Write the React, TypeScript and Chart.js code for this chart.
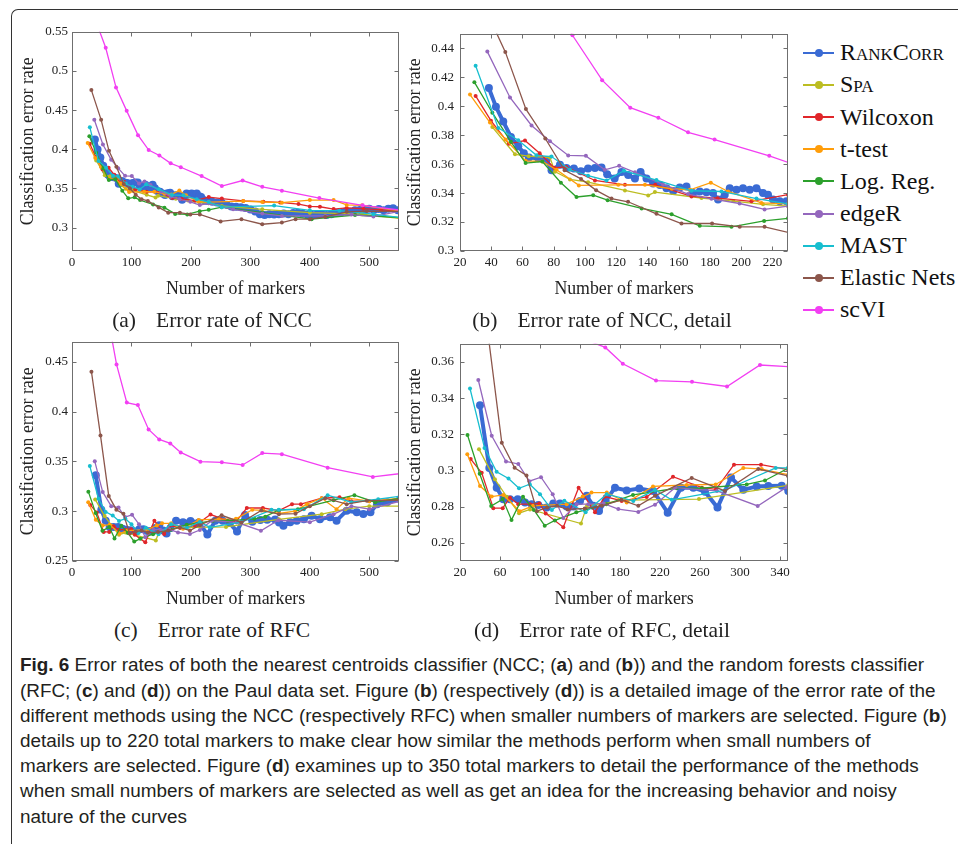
import React, { useEffect, useRef } from "react";
import { Chart, registerables } from "chart.js";
Chart.register(...registerables);

// ---------- Legend / series meta ----------
const METHODS = ["RankCorr", "Spa", "Wilcoxon", "t-test", "Log. Reg.", "edgeR", "MAST", "Elastic Nets", "scVI"];
const COLORS = ["#3a6bd4", "#bcbd22", "#e0262a", "#ff9d0a", "#2ca02c", "#9467bd", "#17becf", "#8c564b", "#f23ff2"];

// ---------- NCC error rates (panels a, b) ----------
const nccRankCorrX = [38.5, 43, 47.7, 52.6, 57.3, 60.9, 64.1, 70.1, 75.4, 78.6, 84, 88.2, 92.9, 97.4, 102, 106.4, 110.6, 114.2, 119, 123.4, 127.7, 132, 135.6, 139.4, 143.7, 148, 152.2, 156.5, 160.7, 165, 169.2, 173.5, 177.8, 182, 185.2, 189.5, 192.7, 197, 201.2, 205.5, 209.8, 214, 217.2, 220.4, 224.7, 229, 236, 244, 252, 260, 268, 276, 284, 292, 300, 308, 316, 324, 332, 340, 348, 356, 364, 372, 380, 388, 396, 404, 412, 420, 428, 436, 444, 452, 460, 468, 476, 484, 492, 500, 508, 516, 524, 532, 540, 548];
const nccRankCorrY = [0.4125, 0.3996, 0.3894, 0.3788, 0.3724, 0.3675, 0.3645, 0.3641, 0.3629, 0.3558, 0.3595, 0.3574, 0.357, 0.3551, 0.357, 0.3574, 0.3576, 0.353, 0.3501, 0.3546, 0.3524, 0.3501, 0.3546, 0.3501, 0.3467, 0.3456, 0.3434, 0.3415, 0.3438, 0.3445, 0.34, 0.3411, 0.3405, 0.34, 0.3355, 0.3388, 0.3434, 0.3423, 0.3434, 0.3423, 0.3434, 0.34, 0.3389, 0.3355, 0.3343, 0.3343, 0.333, 0.332, 0.3315, 0.329, 0.327, 0.3265, 0.326, 0.325, 0.323, 0.3205, 0.317, 0.316, 0.317, 0.3165, 0.317, 0.318, 0.317, 0.3185, 0.319, 0.3175, 0.3165, 0.316, 0.3165, 0.317, 0.316, 0.317, 0.3185, 0.319, 0.3205, 0.32, 0.322, 0.3225, 0.323, 0.324, 0.3225, 0.3235, 0.322, 0.324, 0.3245, 0.322];
const nccSpaX = [40.7, 55.2, 64, 77.6, 80.8, 90.4, 102, 125.6, 140.5, 144.8, 174.6, 195, 214, 230, 252, 320, 400, 488, 552];
const nccSpaY = [0.3856, 0.3668, 0.3655, 0.3645, 0.3548, 0.3494, 0.3475, 0.3418, 0.3384, 0.3407, 0.3366, 0.3345, 0.3322, 0.331, 0.3275, 0.3233, 0.319, 0.317, 0.3115];
const nccWilcoxonX = [30, 39.8, 51.3, 61.6, 71, 80.3, 88, 106.4, 125.6, 145, 168.2, 185, 206.6, 230, 252, 288, 322, 350, 381, 400, 417, 440, 462, 490, 520, 552];
const nccWilcoxonY = [0.4071, 0.39, 0.374, 0.3763, 0.3675, 0.3575, 0.358, 0.3487, 0.3457, 0.3457, 0.3377, 0.3365, 0.3343, 0.3389, 0.337, 0.334, 0.333, 0.332, 0.33, 0.327, 0.3265, 0.3235, 0.325, 0.324, 0.3225, 0.321];
const nccTtestX = [26.4, 39.2, 49.2, 62, 72.7, 81.8, 96.1, 121.3, 138.4, 155.6, 167.2, 180.6, 191.7, 213, 230, 288, 320, 353, 400, 440, 462, 488, 552];
const nccTtestY = [0.408, 0.3887, 0.377, 0.3623, 0.3618, 0.3561, 0.3453, 0.3457, 0.3457, 0.343, 0.3423, 0.3472, 0.3411, 0.3332, 0.3325, 0.3338, 0.3326, 0.3317, 0.335, 0.335, 0.3288, 0.3283, 0.321];
const nccLogRegX = [29.2, 40.7, 52.6, 62, 72.7, 84.6, 94.6, 105.3, 114.5, 136.3, 155.5, 173.5, 193.8, 214.7, 230, 252, 320, 403, 476, 552];
const nccLogRegY = [0.4166, 0.3955, 0.3754, 0.3607, 0.3618, 0.3471, 0.3373, 0.3385, 0.3351, 0.3294, 0.3253, 0.3174, 0.3167, 0.3208, 0.3226, 0.326, 0.319, 0.3106, 0.316, 0.3127];
const nccEdgeRX = [37.5, 52, 65.8, 77.6, 89.3, 100.6, 112.7, 121.9, 132, 150, 166, 181, 199, 215, 230, 271, 320, 353, 426, 470, 507, 552];
const nccEdgeRY = [0.4377, 0.406, 0.3867, 0.3758, 0.366, 0.3657, 0.3561, 0.3588, 0.3543, 0.346, 0.3393, 0.336, 0.3328, 0.3287, 0.331, 0.3233, 0.3178, 0.3148, 0.3148, 0.3165, 0.314, 0.321];
const nccMastX = [30, 44.5, 57.3, 69, 78.6, 90.4, 102, 113.8, 125, 145.8, 168.2, 187.4, 209.8, 230, 252, 340, 400, 450, 507, 552];
const nccMastY = [0.428, 0.385, 0.3765, 0.3661, 0.3652, 0.3561, 0.352, 0.3487, 0.3554, 0.349, 0.3416, 0.3411, 0.3362, 0.3325, 0.326, 0.328, 0.322, 0.3215, 0.317, 0.3127];
const nccElasticX = [32.6, 49, 62.2, 74.6, 87, 97.5, 107.2, 117, 127.6, 145.8, 161.8, 181.4, 199.1, 215, 250, 285, 320, 353, 376, 400, 426, 462, 496, 552];
const nccElasticY = [0.4755, 0.4375, 0.398, 0.3777, 0.3557, 0.3498, 0.3419, 0.3362, 0.334, 0.3257, 0.319, 0.319, 0.3167, 0.3167, 0.3078, 0.3106, 0.3042, 0.3063, 0.3106, 0.3106, 0.3135, 0.32, 0.321, 0.3205];
const nccScviX = [38, 56.7, 74, 92, 111, 129, 147, 166, 183, 218, 252, 287, 320, 353, 416, 489, 552];
const nccScviY = [0.568, 0.5296, 0.479, 0.449, 0.418, 0.399, 0.392, 0.382, 0.377, 0.3657, 0.353, 0.36, 0.352, 0.347, 0.3376, 0.3283, 0.3222];

// ---------- RFC error rates (panels c, d) ----------
const rfcRankCorrX = [40, 49.3, 56.7, 63.3, 70, 77.7, 85, 91.7, 98.3, 106.7, 113.3, 120, 126.7, 133.3, 140, 146.7, 153.3, 159, 165.7, 175, 186.7, 199.3, 213.3, 227.7, 241, 253.3, 265, 277.5, 291, 303.3, 316.7, 328.3, 341.7, 348.3, 355.6, 367, 378, 390, 403, 417, 434, 445, 462, 479, 490, 502, 513, 530, 552];
const rfcRankCorrY = [0.336, 0.3014, 0.2905, 0.2841, 0.2841, 0.2841, 0.2823, 0.2814, 0.2809, 0.2796, 0.2818, 0.2818, 0.2801, 0.2801, 0.2832, 0.286, 0.2805, 0.2776, 0.2832, 0.2905, 0.289, 0.2901, 0.2887, 0.2767, 0.2905, 0.2905, 0.2883, 0.2795, 0.2962, 0.2893, 0.2912, 0.2914, 0.2916, 0.2887, 0.2855, 0.289, 0.2905, 0.292, 0.2955, 0.292, 0.294, 0.2905, 0.3005, 0.299, 0.2972, 0.299, 0.307, 0.309, 0.312];
const rfcSpaX = [39, 54.9, 66.8, 79, 90, 141, 147, 185, 259, 348, 420, 460, 500, 552];
const rfcSpaY = [0.3118, 0.2951, 0.2855, 0.2764, 0.2785, 0.2707, 0.2805, 0.2836, 0.2842, 0.2918, 0.297, 0.302, 0.305, 0.305];
const rfcWilcoxonX = [30.7, 41.7, 53.3, 62.7, 70, 78.3, 90, 99.3, 105.7, 123.3, 138.6, 155, 165, 181.7, 206.7, 233, 262, 276, 294, 321, 348, 370, 385, 420, 450, 470, 500, 552];
const rfcWilcoxonY = [0.3063, 0.2987, 0.2792, 0.2792, 0.285, 0.2814, 0.2814, 0.2818, 0.2763, 0.2687, 0.2905, 0.277, 0.2856, 0.2832, 0.2854, 0.2966, 0.2905, 0.2896, 0.3032, 0.3032, 0.3005, 0.307, 0.307, 0.313, 0.314, 0.31, 0.31, 0.312];
const rfcTtestX = [27.3, 40, 51.7, 63.3, 79.7, 93, 126.7, 142.7, 151.5, 166.8, 186.7, 213, 246.7, 275.7, 303.3, 321.7, 348.3, 375, 395, 420, 445, 465, 500, 552];
const rfcTtestY = [0.309, 0.2914, 0.2856, 0.2865, 0.2775, 0.2805, 0.2814, 0.2856, 0.2878, 0.2878, 0.2823, 0.2912, 0.292, 0.2923, 0.3014, 0.3008, 0.2977, 0.3, 0.307, 0.313, 0.302, 0.313, 0.31, 0.313];
const rfcLogRegX = [27.5, 39.7, 51.2, 62.7, 71.5, 83, 93.9, 104.7, 114.9, 136.3, 166.7, 193, 236.7, 261.7, 306.7, 325, 348, 380, 440, 475, 510, 552];
const rfcLogRegY = [0.3196, 0.2982, 0.2804, 0.2842, 0.2727, 0.2855, 0.2782, 0.2695, 0.2724, 0.2769, 0.2814, 0.2865, 0.2902, 0.2902, 0.2923, 0.2945, 0.3012, 0.302, 0.311, 0.316, 0.309, 0.313];
const rfcEdgeRX = [38.3, 51.7, 66, 78.3, 89.3, 101, 112.7, 123.3, 136.7, 148.3, 163.3, 178.3, 198.3, 215, 235, 277, 317.7, 347, 400, 440, 470, 500, 552];
const rfcEdgeRY = [0.35, 0.3192, 0.305, 0.3036, 0.2941, 0.2963, 0.2869, 0.2738, 0.2814, 0.2814, 0.2818, 0.2787, 0.2771, 0.2811, 0.2905, 0.2887, 0.2804, 0.2909, 0.289, 0.297, 0.305, 0.302, 0.31];
const rfcMastX = [30, 44.5, 56.6, 68.5, 79, 89.8, 100, 111.9, 124.4, 145.6, 166.7, 193.3, 215, 231.7, 285, 335.7, 348, 390, 430, 470, 515, 552];
const rfcMastY = [0.3453, 0.3125, 0.2993, 0.2956, 0.2902, 0.2924, 0.2869, 0.2782, 0.2833, 0.2769, 0.2869, 0.2832, 0.2892, 0.2838, 0.2891, 0.3014, 0.3014, 0.302, 0.316, 0.309, 0.312, 0.315];
const rfcElasticX = [32.7, 47.9, 61.8, 74.6, 86.5, 97, 107.2, 117, 127.6, 144.7, 161.8, 181.4, 198.3, 215, 251.7, 285, 318.3, 348, 376, 400, 426, 462, 496, 552];
const rfcElasticY = [0.44, 0.376, 0.3153, 0.3015, 0.2973, 0.2775, 0.2796, 0.2805, 0.2785, 0.279, 0.2805, 0.2838, 0.2805, 0.286, 0.2959, 0.2887, 0.3008, 0.297, 0.2975, 0.305, 0.313, 0.307, 0.3105, 0.311];
const rfcScviX = [56.7, 74.9, 92.2, 110.8, 128.8, 146.7, 165.3, 182.8, 216, 252, 287, 320, 353, 430, 506, 552];
const rfcScviY = [0.507, 0.4473, 0.409, 0.4065, 0.382, 0.372, 0.368, 0.359, 0.3497, 0.349, 0.3464, 0.3583, 0.3572, 0.3437, 0.3344, 0.3377];

// ---------- tick values ----------
const ticksXWide = [0, 100, 200, 300, 400, 500];
const ticksXNccDetail = [20, 40, 60, 80, 100, 120, 140, 160, 180, 200, 220];
const ticksXRfcDetail = [20, 60, 100, 140, 180, 220, 260, 300, 340];
const ticksYNcc = [0.3, 0.35, 0.4, 0.45, 0.5, 0.55];
const ticksYNccDetail = [0.3, 0.32, 0.34, 0.36, 0.38, 0.4, 0.42, 0.44];
const ticksYRfc = [0.25, 0.3, 0.35, 0.4, 0.45];
const ticksYRfcDetail = [0.26, 0.28, 0.3, 0.32, 0.34, 0.36];

const NCC_X = [nccRankCorrX, nccSpaX, nccWilcoxonX, nccTtestX, nccLogRegX, nccEdgeRX, nccMastX, nccElasticX, nccScviX];
const NCC_Y = [nccRankCorrY, nccSpaY, nccWilcoxonY, nccTtestY, nccLogRegY, nccEdgeRY, nccMastY, nccElasticY, nccScviY];
const RFC_X = [rfcRankCorrX, rfcSpaX, rfcWilcoxonX, rfcTtestX, rfcLogRegX, rfcEdgeRX, rfcMastX, rfcElasticX, rfcScviX];
const RFC_Y = [rfcRankCorrY, rfcSpaY, rfcWilcoxonY, rfcTtestY, rfcLogRegY, rfcEdgeRY, rfcMastY, rfcElasticY, rfcScviY];

const SERIF = '"Liberation Serif", "Times New Roman", serif';
const AXIS_COLOR = "#6f6f6f";
const TEXT_COLOR = "#222";

const boxPlugin = {
  id: "boxTicks",
  afterDraw(chart: any) {
    const { ctx, chartArea: a, scales } = chart;
    ctx.save();
    ctx.strokeStyle = AXIS_COLOR;
    ctx.lineWidth = 1;
    const L = Math.round(a.left) + 0.5, R = Math.round(a.right) - 0.5;
    const T = Math.round(a.top) + 0.5, B = Math.round(a.bottom) - 0.5;
    ctx.strokeRect(L, T, R - L, B - T);
    const tl = 4;
    ctx.beginPath();
    scales.x.ticks.forEach((t: any) => {
      const px = Math.round(scales.x.getPixelForValue(t.value)) + 0.5;
      ctx.moveTo(px, B); ctx.lineTo(px, B - tl);
      ctx.moveTo(px, T); ctx.lineTo(px, T + tl);
    });
    scales.y.ticks.forEach((t: any) => {
      const py = Math.round(scales.y.getPixelForValue(t.value)) + 0.5;
      ctx.moveTo(L, py); ctx.lineTo(L + tl, py);
      ctx.moveTo(R, py); ctx.lineTo(R - tl, py);
    });
    ctx.stroke();
    ctx.restore();
  },
};

const fmt = (v: any) => String(parseFloat(Number(v).toFixed(3)));

type PanelCfg = {
  left: number; top: number; w: number; h: number;
  yWidth: number; xHeight: number; yTitlePad: number; yTickPad: number;
  xMin: number; xMax: number; yMin: number; yMax: number;
  xTicks: number[]; yTicks: number[];
  xs: number[][]; ys: number[][];
};

function Panel({ cfg }: { cfg: PanelCfg }) {
  const ref = useRef<HTMLCanvasElement>(null);
  useEffect(() => {
    const datasets = METHODS.map((name, i) => ({
      label: name,
      data: cfg.xs[i].map((x, j) => ({ x, y: cfg.ys[i][j] })),
      borderColor: COLORS[i],
      backgroundColor: COLORS[i],
      borderWidth: i === 0 ? 4 : 1.3,
      pointRadius: i === 0 ? 4 : 2,
      pointBorderWidth: 0,
      pointHoverRadius: 0,
      tension: 0,
      clip: 0,
      order: METHODS.length - 1 - i,
    }));
    const chart = new Chart(ref.current!, {
      type: "line",
      data: { datasets },
      plugins: [boxPlugin],
      options: {
        animation: false,
        responsive: false,
        maintainAspectRatio: false,
        devicePixelRatio: 1,
        events: [],
        layout: { padding: { top: 10, right: 8, left: 0, bottom: 0 } },
        plugins: { legend: { display: false }, tooltip: { enabled: false }, title: { display: false } },
        scales: {
          x: {
            type: "linear",
            min: cfg.xMin,
            max: cfg.xMax,
            grid: { display: false, drawTicks: false },
            border: { display: false },
            afterBuildTicks: (s: any) => { s.ticks = cfg.xTicks.map((v) => ({ value: v })); },
            afterFit: (s: any) => { s.height = cfg.xHeight; },
            ticks: { autoSkip: false, maxRotation: 0, padding: 4, color: TEXT_COLOR, font: { family: SERIF, size: 13 }, callback: fmt },
            title: { display: true, text: "Number of markers", color: TEXT_COLOR, font: { family: SERIF, size: 17.8 }, padding: { top: 0, bottom: 0 } },
          },
          y: {
            type: "linear",
            min: cfg.yMin,
            max: cfg.yMax,
            grid: { display: false, drawTicks: false },
            border: { display: false },
            afterBuildTicks: (s: any) => { s.ticks = cfg.yTicks.map((v) => ({ value: v })); },
            afterFit: (s: any) => { s.width = cfg.yWidth; },
            ticks: { autoSkip: false, padding: cfg.yTickPad, color: TEXT_COLOR, font: { family: SERIF, size: 13 }, callback: fmt },
            title: { display: true, text: "Classification error rate", color: TEXT_COLOR, font: { family: SERIF, size: 17.8 }, padding: { top: cfg.yTitlePad, bottom: 0 } },
          },
        },
      } as any,
    });
    return () => chart.destroy();
  }, []);
  return (
    <canvas
      ref={ref}
      width={cfg.w}
      height={cfg.h}
      style={{ position: "absolute", left: cfg.left, top: cfg.top, width: cfg.w, height: cfg.h }}
    />
  );
}

const PANELS: PanelCfg[] = [
  { left: 14, top: 20, w: 393, h: 280, yWidth: 58, xHeight: 49, yTitlePad: 3.6, yTickPad: 4, xMin: 0, xMax: 550, yMin: 0.27, yMax: 0.55, xTicks: ticksXWide, yTicks: ticksYNcc, xs: NCC_X, ys: NCC_Y },
  { left: 401, top: 20, w: 395, h: 280, yWidth: 59, xHeight: 49, yTitlePad: 4, yTickPad: 6, xMin: 20, xMax: 230, yMin: 0.3, yMax: 0.45, xTicks: ticksXNccDetail, yTicks: ticksYNccDetail, xs: NCC_X, ys: NCC_Y },
  { left: 14, top: 330, w: 393, h: 280, yWidth: 58, xHeight: 49, yTitlePad: 3.6, yTickPad: 4, xMin: 0, xMax: 550, yMin: 0.25, yMax: 0.47, xTicks: ticksXWide, yTicks: ticksYRfc, xs: RFC_X, ys: RFC_Y },
  { left: 401, top: 330, w: 395, h: 280, yWidth: 59, xHeight: 49, yTitlePad: 4, yTickPad: 6, xMin: 20, xMax: 348, yMin: 0.25, yMax: 0.37, xTicks: ticksXRfcDetail, yTicks: ticksYRfcDetail, xs: RFC_X, ys: RFC_Y },
];

const SUBCAPTIONS = [
  { tag: "(a)", text: "Error rate of NCC", cx: 212, cy: 320 },
  { tag: "(b)", text: "Error rate of NCC, detail", cx: 602, cy: 320 },
  { tag: "(c)", text: "Error rate of RFC", cx: 212, cy: 630 },
  { tag: "(d)", text: "Error rate of RFC, detail", cx: 602, cy: 630 },
];

const B = (s: string) => <b>{s}</b>;

export default function App() {
  return (
    <div style={{ position: "absolute", left: 0, top: 0, width: 958, height: 844, overflow: "hidden", background: "#fff" }}>
      <div style={{ position: "absolute", left: 11, top: 9, width: 980, height: 900, borderTop: "1px solid #333", borderLeft: "1px solid #333", borderTopLeftRadius: 7 }} />
      {PANELS.map((p, i) => <Panel key={i} cfg={p} />)}
      {SUBCAPTIONS.map((s, i) => (
        <div key={i} style={{ position: "absolute", left: s.cx - 200, top: s.cy - 13, width: 400, textAlign: "center", fontFamily: SERIF, fontSize: 21.5, lineHeight: "26px", color: TEXT_COLOR, whiteSpace: "nowrap" }}>
          <span style={{ marginRight: 20 }}>{s.tag}</span>{s.text}
        </div>
      ))}
      {METHODS.map((m, i) => (
        <div key={m} style={{ position: "absolute", left: 803, top: 52.7 + i * 32.16 - 16, height: 32, display: "flex", alignItems: "center", whiteSpace: "nowrap" }}>
          <div style={{ position: "relative", width: 31, height: 2, background: COLORS[i] }}>
            <div style={{ position: "absolute", left: 12, top: -3, width: 8, height: 8, borderRadius: 4, background: COLORS[i] }} />
          </div>
          <span style={{ marginLeft: 6, fontFamily: SERIF, fontSize: 24, color: "#111", fontVariant: i < 2 ? "small-caps" : "normal" }}>{m}</span>
        </div>
      ))}
      <div style={{ position: "absolute", left: 20, top: 652.4, fontFamily: '"Liberation Sans Narrow", "Arial Narrow", "Liberation Sans", sans-serif', fontSize: 18.9, lineHeight: "25.2px", color: "#231f20", whiteSpace: "nowrap" }}>
        <div>{B("Fig. 6")}{"  "}Error rates of both the nearest centroids classifier (NCC; ({B("a")}) and ({B("b")})) and the random forests classifier</div>
        <div>(RFC; ({B("c")}) and ({B("d")})) on the Paul data set. Figure ({B("b")}) (respectively ({B("d")})) is a detailed image of the error rate of the</div>
        <div>different methods using the NCC (respectively RFC) when smaller numbers of markers are selected. Figure ({B("b")})</div>
        <div>details up to 220 total markers to make clear how similar the methods perform when small numbers of</div>
        <div>markers are selected. Figure ({B("d")}) examines up to 350 total markers to detail the performance of the methods</div>
        <div>when small numbers of markers are selected as well as get an idea for the increasing behavior and noisy</div>
        <div>nature of the curves</div>
      </div>
    </div>
  );
}
